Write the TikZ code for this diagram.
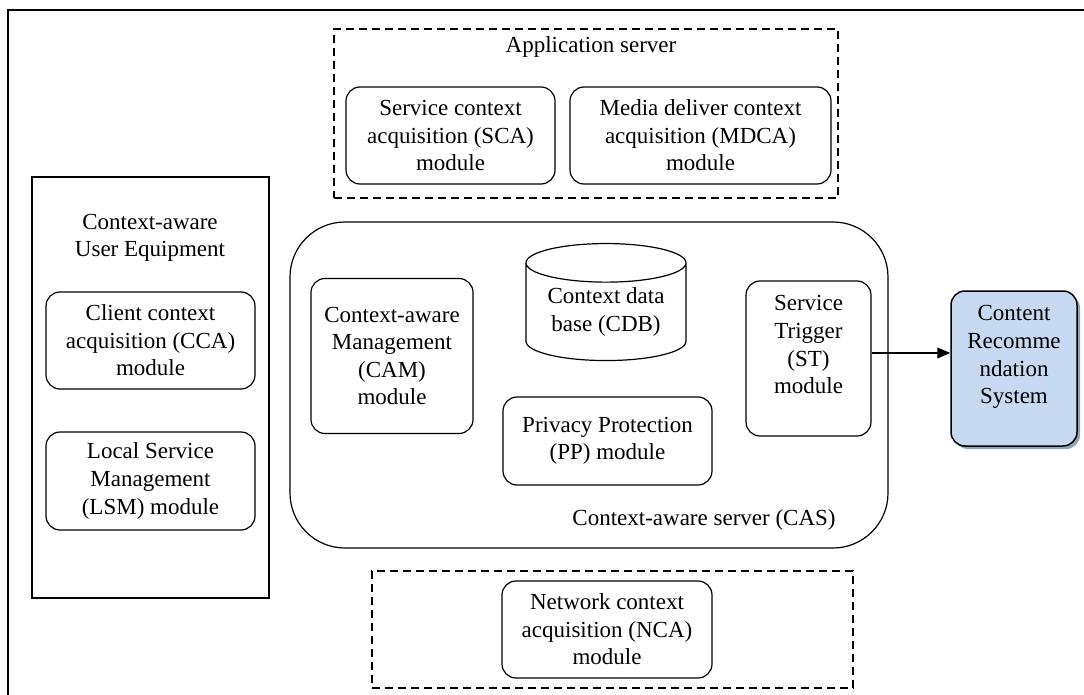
\documentclass[tikz,border=0pt]{standalone}
\usepackage{fontspec}
\setmainfont{Liberation Serif}
\usepackage{tikz}
\usetikzlibrary{arrows.meta,positioning,shapes.geometric,shadows}
\definecolor{ink}{HTML}{000000}
\definecolor{crsfill}{HTML}{C6D9F1}
\definecolor{crsshade}{HTML}{8EA6B4}
\tikzset{module/.style={draw=ink,rounded corners=14pt,line width=1.2pt,align=center,inner sep=0pt},
  group/.style={draw=ink,dash pattern=on 8pt off 5pt,line width=1.2pt,inner sep=0pt},
  plain/.style={align=center,inner sep=0pt},
  flow/.style={line width=1.1pt,draw=ink,-{Triangle[length=13pt,width=11pt]}}}

\begin{document}
\begin{tikzpicture}[x=1pt,y=-1pt,font=\fontsize{23}{27.6}\selectfont]
\useasboundingbox (0,0) rectangle (1084,695);
\clip (0,0) rectangle (1084,695);
\draw[ink,line width=1.8pt] (8,10) rectangle (1110,720);
% application server
\node[group,minimum width=504pt,minimum height=169pt] (appsrv) at (586,113.5) {};
\node[plain] (appsrvlabel) at (591,47) {Application server};
\node[module,minimum width=209pt,minimum height=97pt] (sca) at (450.5,135.5)
  {Service context\\acquisition (SCA)\\module};
\node[module,minimum width=261pt,minimum height=97pt] (mdca) at (700.5,135.5)
  {Media deliver context\\acquisition (MDCA)\\module};
% user equipment
\node[draw=ink,line width=1.2pt,minimum width=237pt,minimum height=421pt] (ue) at (150.5,387.5) {};
\node[plain] (uelabel) at (150,238) {Context-aware\\User Equipment};
\node[module,minimum width=209pt,minimum height=97pt] (cca) at (150.5,340.5)
  {Client context\\acquisition (CCA)\\module};
\node[module,minimum width=209pt,minimum height=98pt] (lsm) at (150.5,481)
  {Local Service\\Management\\(LSM) module};
% context-aware server
\node[module,rounded corners=55pt,minimum width=598pt,minimum height=326pt] (cas) at (589,385) {};
\node[plain] (caslabel) at (704,520) {Context-aware server (CAS)};
\node[module,minimum width=162pt,minimum height=155pt] (cam) at (392,356)
  {Context-aware\\Management\\(CAM)\\module};
\node[draw=ink,line width=1.2pt,cylinder,shape border rotate=90,aspect=0.33,
  minimum width=160pt,minimum height=117pt,align=center,inner sep=0pt] (cdb) at (606,312)
  {Context data\\base (CDB)};
\node[module,minimum width=209pt,minimum height=88pt] (pp) at (607.5,441)
  {Privacy Protection\\(PP) module};
\node[module,minimum width=125pt,minimum height=155pt] (st) at (808.5,358.5)
  {Service\\Trigger\\(ST)\\module\\~};
\node[module,fill=crsfill,line width=1.5pt,minimum width=126pt,minimum height=155pt,
  drop shadow={opacity=1,fill=crsshade,shadow xshift=3pt,shadow yshift=-3pt}] (crs) at (1014,368.5)
  {Content\\Recomme\\ndation\\System\\~};
\draw[flow] ([yshift=5.5pt]st.east) -- ([yshift=5.5pt]st.east -| crs.west);
% network
\node[group,minimum width=481pt,minimum height=117pt] (netgrp) at (612.5,629.5) {};
\node[module,minimum width=210pt,minimum height=97pt] (nca) at (607,629.5)
  {Network context\\acquisition (NCA)\\module};
\end{tikzpicture}
\end{document}
